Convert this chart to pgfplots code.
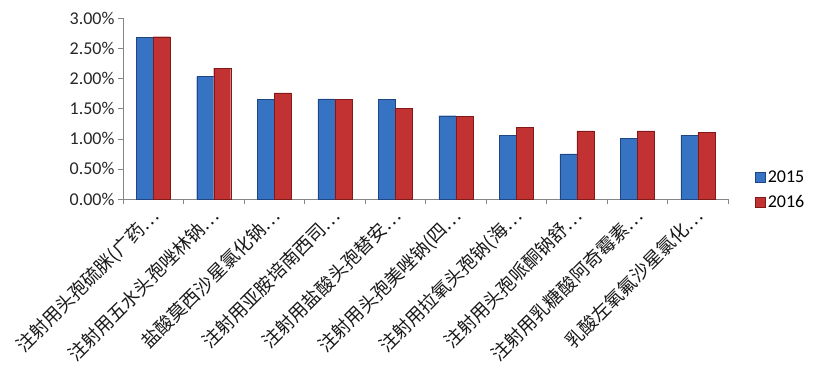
\documentclass[border=0pt]{standalone}
\usepackage{pgfplots}
\pgfplotsset{compat=1.18}
\usepackage{fontspec}
\setmainfont{Carlito}
\newfontfamily\cjk{Noto Sans CJK SC}
\definecolor{bfill}{RGB}{55,115,195}
\definecolor{bedge}{RGB}{30,70,130}
\definecolor{rfill}{RGB}{195,50,50}
\definecolor{redge}{RGB}{130,25,25}
\definecolor{axgray}{RGB}{134,134,134}
\begin{document}
\begin{tikzpicture}
\useasboundingbox (-123pt,-178pt) rectangle (717pt,199pt);
\begin{axis}[
  scale only axis,
  width=605pt, height=181pt,
  at={(0pt,0pt)}, anchor=south west,
  ymin=0, ymax=3,
  xmin=-0.5, xmax=9.5,
  axis lines*=left,
  axis line style={axgray},
  ybar=0pt, bar width=17pt,
  ytick={0,0.5,...,3},
  yticklabel={\pgfmathprintnumber[fixed,fixed zerofill,precision=2]{\tick}\%},
  /pgf/number format/assume math mode=true,
  xtick={0,...,9},
  major x tick style={draw=none},
  minor xtick={-0.5,0.5,...,9.5},
  minor tick length=5pt,
  major tick length=5pt,
  tick align=outside,
  tick style={axgray},
  y tick label style={font=\fontsize{18}{20}\selectfont, text=black!85},
  xticklabel style={font=\cjk\fontsize{18.5}{20}\selectfont, xshift=-4pt, yshift=-1pt, rotate=45, anchor=north east, inner sep=1pt, text=black!90},
  xticklabels={
    {注射用头孢硫脒(广药…},
    {注射用五水头孢唑林钠…},
    {盐酸莫西沙星氯化钠…},
    {注射用亚胺培南西司…},
    {注射用盐酸头孢替安…},
    {注射用头孢美唑钠(四…},
    {注射用拉氧头孢钠(海…},
    {注射用头孢哌酮钠舒…},
    {注射用乳糖酸阿奇霉素…},
    {乳酸左氧氟沙星氯化…}
  },
  legend style={draw=none, fill=none, at={(1.04,0.05)}, anchor=west,
    font=\fontsize{18}{20}\selectfont, row sep=8pt, legend cell align=left},
  legend image code/.code={\fill[#1] (0pt,-5pt) rectangle (10pt,5pt);},
  clip=false,
]
\addplot[draw=bedge, fill=bfill]
  coordinates {(0,2.675) (1,2.03) (2,1.65) (3,1.66) (4,1.65) (5,1.38) (6,1.06) (7,0.75) (8,1.005) (9,1.06)};
\addplot[draw=redge, fill=rfill]
  coordinates {(0,2.69) (1,2.17) (2,1.76) (3,1.65) (4,1.50) (5,1.365) (6,1.19) (7,1.13) (8,1.13) (9,1.10)};
\legend{2015,2016}
\end{axis}
\end{tikzpicture}
\end{document}
